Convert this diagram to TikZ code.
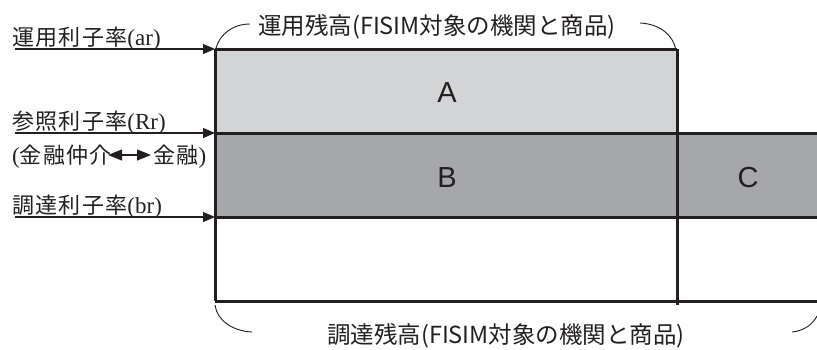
\documentclass[tikz,border=0pt]{standalone}
\usepackage{fontspec}
\setmainfont{Liberation Serif}
\newfontfamily\cjk{Noto Sans CJK JP}
\newfontfamily\cjklight{Noto Sans CJK JP}[LetterSpace=6]
\newfontfamily\hel{Liberation Sans}
\usetikzlibrary{arrows.meta}
\definecolor{lightg}{HTML}{D3D4D6}
\definecolor{darkg}{HTML}{A6A7AA}
\definecolor{ink}{HTML}{231F20}
\begin{document}
\begin{tikzpicture}[x=1pt,y=-1pt,
  frame/.style={draw=ink,line width=3pt},
  rate/.style={draw=ink,line width=1.1pt,-{Triangle[length=12pt,width=10pt]}},
  ratelabel/.style={anchor=base west,inner sep=0pt,font=\fontsize{23}{25}\selectfont,text=ink},
  letter/.style={font=\hel\fontsize{29}{31}\selectfont,text=ink},
  span/.style={font=\cjk\fontsize{23.5}{26}\selectfont,text=ink,inner sep=0pt},
  brace/.style={draw=ink,line width=0.9pt}]
\useasboundingbox (0,0) rectangle (817,349);
% coordinates
\coordinate (tl) at (215,49);
\coordinate (tm) at (677,49);
\coordinate (ml) at (215,133);
\coordinate (mm) at (677,133);
\coordinate (mr) at (817,133);
\coordinate (bl) at (215,217);
\coordinate (bm) at (677,217);
\coordinate (br) at (817,217);
\coordinate (zl) at (215,301);
\coordinate (zm) at (677,301);
\coordinate (zr) at (817,301);
\coordinate (zmx) at (677,305);
% fills
\fill[lightg] (tl) rectangle (mm);
\fill[darkg] (ml) rectangle (br);
% frame lines
\draw[frame] (tl) -- (tm);
\draw[frame] (ml) -- (mr);
\draw[frame] (bl) -- (br);
\draw[frame] (zl) -- (zr);
\draw[frame] (tl) -- (zl);
\draw[frame] (tm) -- (zmx);
% letters
\node[letter] (A) at (447,93) {A};
\node[letter] (B) at (447,178) {B};
\node[letter] (C) at (748,178) {C};
% rate arrows
\coordinate (s1) at (15,49);
\coordinate (s2) at (15,133);
\coordinate (s3) at (15,217);
\draw[rate] (s1) -- (tl);
\draw[rate] (s2) -- (ml);
\draw[rate] (s3) -- (bl);
\node[ratelabel] (l1) at (12,45) {{\cjklight\fontsize{22}{24}\selectfont 運用利子率}(ar)};
\node[ratelabel] (l2) at (12,129) {{\cjklight\fontsize{22}{24}\selectfont 参照利子率}(Rr)};
\node[ratelabel] (m1) at (12,163) {({\cjklight\fontsize{22}{24}\selectfont 金融仲介}};
\node[ratelabel] (m2) at (153,163) {{\cjklight\fontsize{22}{24}\selectfont 金融})};
\coordinate (d1) at (108,155);
\coordinate (d2) at (151,155);
\draw[draw=ink,line width=1.1pt,{Triangle[length=14pt,width=11pt]}-{Triangle[length=14pt,width=11pt]}] (d1) -- (d2);
\node[ratelabel] (l3) at (12,213) {{\cjklight\fontsize{22}{24}\selectfont 調達利子率}(br)};
% top span
\node[span] (top) at (437,27) {運用残高(FISIM対象の機関と商品)};
\coordinate (ta) at (250,24);
\coordinate (tb) at (640,23);
\draw[brace] (216,48) .. controls (220,34) and (233,24) .. (ta);
\draw[brace] (tb) .. controls (660,24) and (673,35) .. (676,50);
% bottom span
\node[span] (bot) at (506,336) {調達残高(FISIM対象の機関と商品)};
\coordinate (ba) at (252,332);
\coordinate (bb) at (792,332);
\draw[brace] (215,305) .. controls (217,320) and (232,331) .. (ba);
\draw[brace] (bb) .. controls (804,331) and (813,324) .. (817,316);
\end{tikzpicture}
\end{document}
